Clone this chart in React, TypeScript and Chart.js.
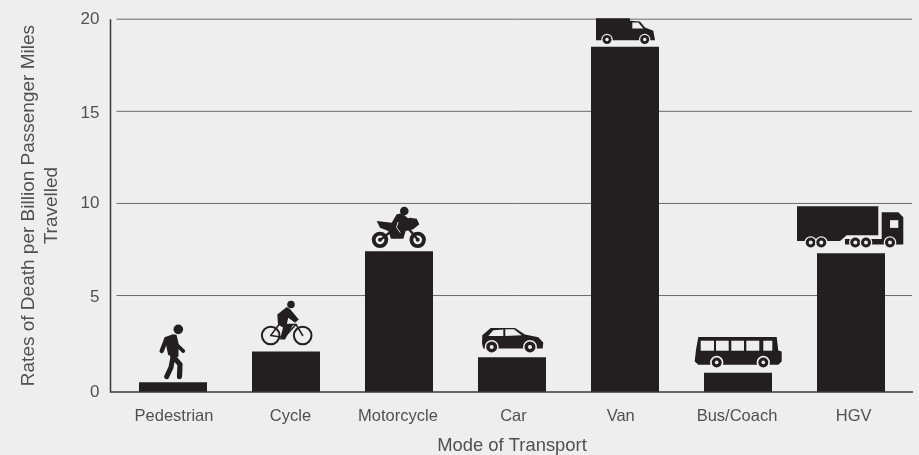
import React, { useEffect, useRef } from "react";
import { Chart, LinearScale, registerables } from "chart.js";

Chart.register(...registerables);

const categories = ["Pedestrian", "Cycle", "Motorcycle", "Car", "Van", "Bus/Coach", "HGV"];
const deathRates = [0.5, 2.1, 7.4, 1.8, 18.5, 1.0, 7.3];
const yTicks = [0, 5, 10, 15, 20];
const yTitle = ["Rates of Death per Billion Passenger Miles", "Travelled"];
const xTitle = "Mode of Transport";

const BG = "#eeeeee";
const INK = "#231f20";
const TEXT = "#505050";
const FONT = "'Liberation Sans', Arial, sans-serif";

// The reference's labels sit slightly unevenly, these are the small shifts in pixels.
const xLabelShift = [1, 4.5, -1, 1.5, -4.3, -1, 2.7];
const yLabelShift = [0, 2, 0, 1.5, 0];

// The reference's lowest interval is slightly taller than the others.
class PrintedScale extends LinearScale {
  static id = "printed";
  static defaults = LinearScale.defaults;
  getPixelForValue(v: number) {
    const knee = 0.2587;
    const f = v <= 5 ? (v / 5) * knee : knee + ((v - 5) / 15) * (1 - knee);
    return this.bottom - f * (this.bottom - this.top);
  }
}
Chart.register(PrintedScale);

type Ctx = CanvasRenderingContext2D;
type Pt = [number, number];

const poly = (c: Ctx, pts: Pt[], fill = INK) => {
  c.fillStyle = fill;
  c.beginPath();
  pts.forEach((p, i) => (i ? c.lineTo(p[0], p[1]) : c.moveTo(p[0], p[1])));
  c.closePath();
  c.fill();
};
const dot = (c: Ctx, x: number, y: number, r: number, fill = INK) => {
  c.fillStyle = fill;
  c.beginPath();
  c.arc(x, y, r, 0, Math.PI * 2);
  c.fill();
};
const line = (c: Ctx, pts: Pt[], w: number, color = INK) => {
  c.strokeStyle = color;
  c.lineWidth = w;
  c.lineCap = "round";
  c.lineJoin = "round";
  c.beginPath();
  pts.forEach((p, i) => (i ? c.lineTo(p[0], p[1]) : c.moveTo(p[0], p[1])));
  c.stroke();
};
const ring = (c: Ctx, x: number, y: number, r: number, w: number) => {
  c.strokeStyle = INK;
  c.lineWidth = w;
  c.beginPath();
  c.arc(x, y, r, 0, Math.PI * 2);
  c.stroke();
};
const wheel = (c: Ctx, x: number, y: number, o: number, b: number, h: number) => {
  dot(c, x, y, o, BG);
  dot(c, x, y, b);
  dot(c, x, y, h, BG);
};

// Icons are drawn relative to the bar's centre and top.
const icons: ((c: Ctx) => void)[] = [
  (c) => {
    dot(c, 5.3, -53, 4.8);
    poly(c, [[-8.5, -45], [0, -48], [3.5, -47.5], [5.5, -39], [5.5, -26], [1, -23], [-5, -28]]);
    line(c, [[-6.8, -43], [-11.3, -31.3]], 4.4);
    line(c, [[4.3, -37], [10.3, -31.3]], 3.8);
    line(c, [[0, -25], [-2, -15], [-6.3, -5.7]], 5);
    line(c, [[0, -26], [7, -18], [6.5, -5.7]], 5.2);
  },
  (c) => {
    dot(c, 5, -47, 3.8);
    ring(c, -15.3, -16, 8.8, 2);
    ring(c, 16.7, -16, 8.8, 2);
    line(c, [[-15.3, -16], [-7, -27], [10, -27], [16.7, -16]], 1.5);
    line(c, [[-15.3, -16], [-2, -14], [10, -27]], 1.5);
    poly(c, [[-8.7, -37], [0.7, -44.5], [4, -42.5], [12.8, -32], [9, -28.7], [2.3, -33.7], [0.7, -27], [7.3, -27], [-1, -12], [-6, -12], [-3, -24], [-8, -27]]);
  },
  (c) => {
    wheel(c, -19, -11.5, 8.6, 8.2, 4.4);
    dot(c, -19, -11.5, 2);
    wheel(c, 18.7, -11.5, 8.6, 8.2, 4.4);
    dot(c, 18.7, -11.5, 2);
    line(c, [[-18, -12], [-8, -20]], 2.4);
    line(c, [[10, -22], [18.5, -12]], 2.4);
    poly(c, [[-22.3, -30.3], [-7.3, -28.7], [-2.3, -37], [3, -38], [9, -33], [11, -33.7], [17.7, -32.7], [20.3, -27], [14.3, -22], [6.7, -20.3], [4.3, -12.7], [-8, -12.7], [-10.7, -20.3], [-19, -23.7]]);
    dot(c, 5.3, -40.3, 4.3);
    line(c, [[-1, -29], [-2.5, -24], [1, -19]], 0.9, BG);
  },
  (c) => {
    poly(c, [[-29.7, -22], [-21.3, -29.3], [3, -29.3], [13, -22.7], [26.3, -20], [31.3, -14.7], [30.7, -8.7], [-28.7, -8.7], [-30, -13.7]]);
    poly(c, [[-23.7, -21.3], [-18.7, -27], [-8.7, -27.7], [-8.7, -21.3]], BG);
    poly(c, [[-6.7, -28], [2, -28], [9.7, -22], [-6.7, -21.3]], BG);
    wheel(c, -20.3, -10.3, 7, 5.5, 2);
    wheel(c, 18, -10.3, 7, 5.5, 2);
  },
  (c) => {
    poly(c, [[-29, -28.7], [5, -28.7], [5, -26], [15, -25.3], [20, -19.3], [28.3, -16], [30, -6.7], [-29, -6.7]]);
    poly(c, [[7.3, -24.3], [13.3, -24.3], [18.3, -18.3], [7.3, -18.3]], BG);
    wheel(c, -18, -7.3, 5.7, 4.5, 1.7);
    wheel(c, 19.7, -7.3, 5.7, 4.5, 1.7);
  },
  (c) => {
    poly(c, [[-39.7, -35.7], [38.7, -35.7], [40.3, -22.3], [43.7, -21.3], [43.7, -11.3], [40.3, -8], [-39.7, -8], [-43.3, -11.3], [-42, -23]]);
    ([[-37.3, -24], [-22, -9.3], [-6.7, 6], [8.3, 21.3], [25.3, 34.3]] as Pt[]).forEach(([a, b]) =>
      poly(c, [[a, -32], [b, -32], [b, -22], [a, -22]], BG)
    );
    wheel(c, -21.3, -10.3, 6.7, 5, 1.8);
    wheel(c, 25.3, -10.3, 6.7, 5, 1.8);
  },
  (c) => {
    poly(c, [[-54, -47], [27.3, -47], [27.3, -18], [-4.3, -18], [-11, -12.3], [-54, -12.3]]);
    poly(c, [[30.7, -41], [47.3, -41], [52.3, -36], [52.3, -8.7], [-6, -8.7], [-6, -14.3], [30.7, -14.3]]);
    poly(c, [[39, -33], [47.3, -33], [47.3, -25.3], [39, -25.3]], BG);
    [-40.3, -29.7, 4.3, 15, 39].forEach((x) => wheel(c, x, -10.7, 6.3, 5, 2));
  },
];

const frame = {
  id: "frame",
  beforeDraw(chart: any) {
    const shift = (scale: any, amounts: number[], axis: number) =>
      scale.getLabelItems(chart.chartArea).forEach((item: any, i: number) => {
        if (item.shifted) return;
        item.shifted = true;
        item.options.translation[axis] += amounts[i] || 0;
      });
    shift(chart.scales.x, xLabelShift, 0);
    shift(chart.scales.y, yLabelShift, 1);
  },
  beforeDatasetsDraw(chart: any) {
    const { ctx, chartArea, scales } = chart;
    ctx.save();
    ctx.strokeStyle = "#6a6a6a";
    ctx.lineWidth = 1;
    scales.y.ticks.forEach((t: any) => {
      if (t.value === 0) return;
      const y = scales.y.getPixelForValue(t.value);
      ctx.beginPath();
      ctx.moveTo(chartArea.left, y);
      ctx.lineTo(chartArea.right + 4.5, y);
      ctx.stroke();
    });
    ctx.restore();
  },
  afterDatasetsDraw(chart: any) {
    const { ctx, chartArea, scales } = chart;
    const base = scales.y.getPixelForValue(0);
    ctx.save();
    ctx.strokeStyle = "#3a3a3a";
    ctx.lineWidth = 1.5;
    ctx.beginPath();
    ctx.moveTo(chartArea.left - 6, scales.y.getPixelForValue(20));
    ctx.lineTo(chartArea.left - 6, base);
    ctx.lineTo(chartArea.right + 5.5, base);
    ctx.stroke();
    chart.getDatasetMeta(0).data.forEach((bar: any, i: number) => {
      ctx.save();
      ctx.translate(bar.x, bar.y);
      icons[i](ctx);
      ctx.restore();
    });
    ctx.restore();
  },
};

export default function App() {
  const ref = useRef<HTMLCanvasElement>(null);
  useEffect(() => {
    document.body.style.margin = "0";
    document.body.style.background = BG;
    const chart = new Chart(ref.current!, {
      type: "bar",
      data: {
        labels: categories,
        datasets: [
          {
            data: deathRates,
            backgroundColor: INK,
            barPercentage: 0.6018,
            categoryPercentage: 1,
          },
        ],
      },
      plugins: [frame],
      options: {
        responsive: false,
        animation: false,
        layout: { padding: { top: 12, right: 11.5, left: 0, bottom: 0 } },
        plugins: { legend: { display: false }, tooltip: { enabled: false } },
        scales: {
          x: {
            grid: { display: false },
            border: { display: false },
            ticks: { color: TEXT, font: { family: FONT, size: 16.5 }, padding: 7, maxRotation: 0 },
            title: {
              display: true,
              text: xTitle,
              color: TEXT,
              font: { family: FONT, size: 18.4, lineHeight: 1 },
              padding: { top: 0, bottom: 0 },
            },
            afterFit(s: any) {
              s.height = 63;
            },
          },
          y: {
            type: "printed" as any,
            min: 0,
            max: 20,
            grid: { display: false },
            border: { display: false },
            afterBuildTicks(s: any) {
              s.ticks = yTicks.map((value) => ({ value }));
            },
            ticks: { color: TEXT, font: { family: FONT, size: 17 }, padding: 9 },
            title: {
              display: true,
              text: yTitle,
              color: TEXT,
              font: { family: FONT, size: 19, lineHeight: 1.2 },
              padding: { top: 17.5, bottom: 0 },
            },
            afterFit(s: any) {
              s.width = 116.5;
            },
          },
        },
      },
    } as any);
    return () => chart.destroy();
  }, []);
  return <canvas ref={ref} width={919} height={455} style={{ display: "block", background: BG }} />;
}
